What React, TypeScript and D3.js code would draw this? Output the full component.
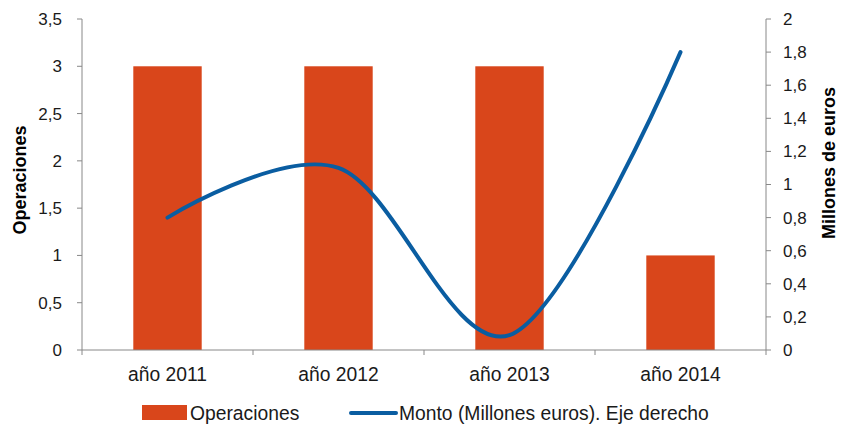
import React from "react";
import * as d3 from "d3";

const categories = ["año 2011", "año 2012", "año 2013", "año 2014"];
const operaciones = [3, 3, 3, 1];
const monto = [0.8, 1.1, 0.09, 1.8];
const leftTicks = [0, 0.5, 1, 1.5, 2, 2.5, 3, 3.5];
const rightTicks = [0, 0.2, 0.4, 0.6, 0.8, 1, 1.2, 1.4, 1.6, 1.8, 2];
const seriesNames = ["Operaciones", "Monto (Millones euros). Eje derecho"];

const W = 841;
const H = 426;
const FONT = "Liberation Sans, Arial, sans-serif";
const BAR = "#D9461B";
const LINE = "#0A5DA1";
const AXIS = "#888888";

const fmt = (v: number) => String(v).replace(".", ",");

export default function App() {
  const x0 = 82, x1 = 766, yTop = 19, yBot = 350;
  const x = d3.scaleBand<string>().domain(categories).range([x0, x1]).paddingInner(0.6).paddingOuter(0.3);
  const xb = d3.scaleBand<string>().domain(categories).range([x0, x1]);
  const yL = d3.scaleLinear().domain([0, 3.5]).range([yBot, yTop]);
  const yR = d3.scaleLinear().domain([0, 2]).range([yBot, yTop]);
  const line = d3
    .line<number>()
    .x((_, i) => (xb(categories[i]) as number) + xb.bandwidth() / 2)
    .y((d) => yR(d))
    .curve(d3.curveCardinal.tension(0));

  return (
    <svg width={W} height={H} style={{ position: "absolute", left: 0, top: 0 }} fontFamily={FONT}>
      <rect width={W} height={H} fill="#fff" />
      {categories.map((c, i) => (
        <rect key={c} x={x(c)} y={yL(operaciones[i])} width={x.bandwidth()} height={yBot - yL(operaciones[i])} fill={BAR} />
      ))}
      {/* left axis */}
      <line x1={x0} x2={x0} y1={yTop} y2={yBot} stroke={AXIS} strokeWidth={1} />
      {leftTicks.map((t) => (
        <g key={"l" + t}>
          <line x1={x0 - 5} x2={x0} y1={yL(t)} y2={yL(t)} stroke={AXIS} />
          <text x={x0 - 20} y={yL(t)} dy="0.35em" textAnchor="end" fontSize={17} fill="#1a1a1a">
            {fmt(t)}
          </text>
        </g>
      ))}
      {/* right axis */}
      <line x1={x1} x2={x1} y1={yTop} y2={yBot} stroke={AXIS} strokeWidth={1} />
      {rightTicks.map((t) => (
        <g key={"r" + t}>
          <line x1={x1} x2={x1 + 5} y1={yR(t)} y2={yR(t)} stroke={AXIS} />
          <text x={x1 + 17} y={yR(t)} dy="0.35em" textAnchor="start" fontSize={17} fill="#1a1a1a">
            {fmt(t)}
          </text>
        </g>
      ))}
      {/* bottom axis */}
      <line x1={x0} x2={x1} y1={yBot} y2={yBot} stroke={AXIS} strokeWidth={1} />
      {categories.concat([""]).map((c, i) => {
        const px = x0 + i * xb.bandwidth();
        return <line key={"bt" + i} x1={px} x2={px} y1={yBot} y2={yBot + 5} stroke={AXIS} />;
      })}
      {categories.map((c) => (
        <text key={"c" + c} x={(xb(c) as number) + xb.bandwidth() / 2} y={381} textAnchor="middle" fontSize={19.3} fill="#1a1a1a">
          {c}
        </text>
      ))}
      {/* line */}
      <path d={line(monto) || ""} fill="none" stroke={LINE} strokeWidth={4} strokeLinecap="round" />
      {/* titles */}
      <text transform={`translate(26,180) rotate(-90)`} textAnchor="middle" fontSize={18} fontWeight="bold" fill="#000">
        Operaciones
      </text>
      <text transform={`translate(835,163) rotate(-90)`} textAnchor="middle" fontSize={18} fontWeight="bold" fill="#000">
        Millones de euros
      </text>
      {/* legend */}
      <rect x={142} y={405} width={45} height={15} fill={BAR} />
      <text x={190} y={419.5} fontSize={19.3} fill="#1a1a1a">{seriesNames[0]}</text>
      <line x1={351} x2={396} y1={413} y2={413} stroke={LINE} strokeWidth={4} strokeLinecap="round" />
      <text x={399} y={419.5} fontSize={19.3} fill="#1a1a1a">{seriesNames[1]}</text>
    </svg>
  );
}
